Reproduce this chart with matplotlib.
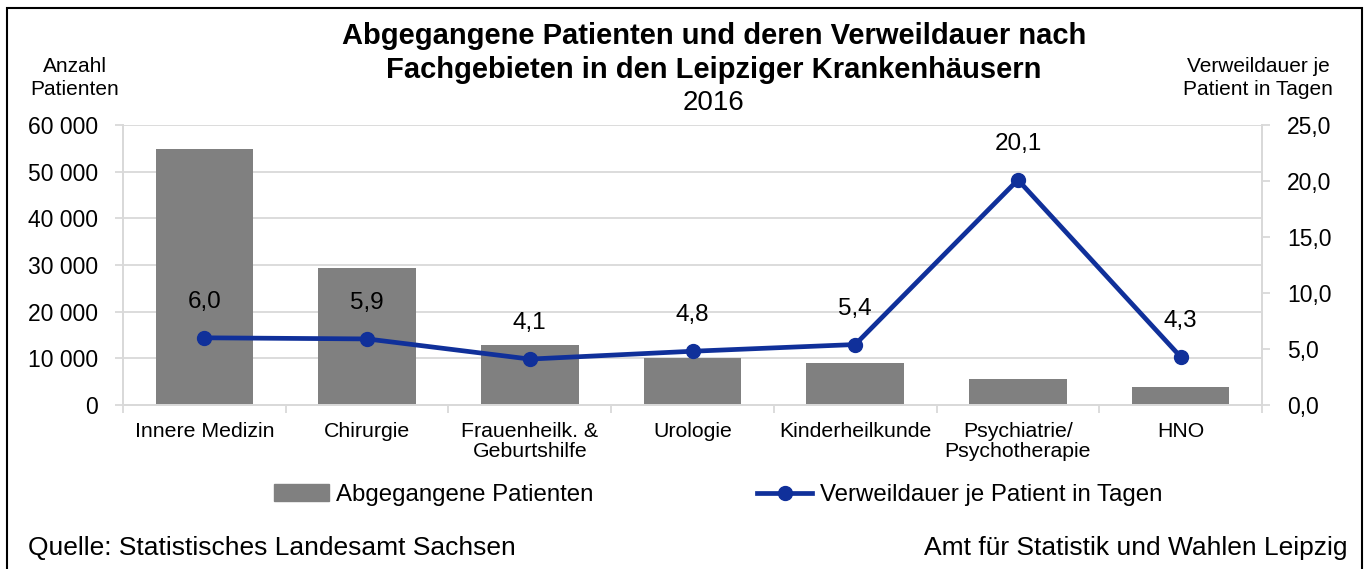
import matplotlib
matplotlib.use("Agg")
import matplotlib.pyplot as plt
from matplotlib.ticker import FuncFormatter, FixedLocator
from matplotlib.patches import Rectangle
from matplotlib.lines import Line2D

plt.rcParams['font.family'] = ['Liberation Sans', 'DejaVu Sans']

categories = ["Innere Medizin", "Chirurgie", "Frauenheilk. &\nGeburtshilfe", "Urologie",
              "Kinderheilkunde", "Psychiatrie/\nPsychotherapie", "HNO"]
patients = [54800, 29300, 12850, 10000, 8900, 5600, 3900]
duration = [6.0, 5.9, 4.1, 4.8, 5.4, 20.1, 4.3]
duration_labels = ["6,0", "5,9", "4,1", "4,8", "5,4", "20,1", "4,3"]

bar_color = "#808080"
line_color = "#10309a"
grid_color = "#d9d9d9"

fig = plt.figure(figsize=(13.65, 5.69), dpi=100)
ax = fig.add_axes([123/1365, 1-405/569, (1262-123)/1365, (405-125)/569])
ax2 = ax.twinx()

x = list(range(len(categories)))
ax.bar(x, patients, width=0.6, color=bar_color, zorder=2)
ax.set_xlim(-0.5, len(categories)-0.5)
ax.set_ylim(0, 60000)
ax.set_yticks(range(0, 60001, 10000))
ax.yaxis.set_major_formatter(FuncFormatter(lambda v, p: f"{int(v):,}".replace(",", " ")))
ax.grid(axis='y', color=grid_color, lw=1.3, zorder=0)
ax.set_axisbelow(True)

ax.set_xticks(x)
ax.set_xticklabels(categories, fontsize=15.3, linespacing=1.1)
ax.xaxis.set_minor_locator(FixedLocator([i - 0.5 for i in range(len(categories)+1)]))
ax.tick_params(axis='x', which='major', length=0, pad=12)
ax.tick_params(axis='x', which='minor', length=6, width=1.3, color=grid_color, direction='out')
ax.tick_params(axis='y', length=6, width=1.3, color=grid_color, labelsize=16.5, pad=12)

for s in ['top']:
    ax.spines[s].set_visible(False)
    ax2.spines[s].set_visible(False)
for a in (ax, ax2):
    for s in ['left', 'right', 'bottom']:
        a.spines[s].set_color(grid_color)
        a.spines[s].set_linewidth(1.3)

ax2.plot(x, duration, color=line_color, lw=3.4, marker='o', markersize=10, zorder=3)
ax2.set_ylim(0, 25)
ax2.set_yticks([0, 5, 10, 15, 20, 25])
ax2.yaxis.set_major_formatter(FuncFormatter(lambda v, p: f"{v:.1f}".replace(".", ",")))
ax2.tick_params(axis='y', length=6, width=1.3, color=grid_color, labelsize=16.5, pad=12)
for xi, yi, lab in zip(x, duration, duration_labels):
    ax2.annotate(lab, (xi, yi), xytext=(0, 18), textcoords='offset points',
                 ha='center', va='bottom', fontsize=17.5)

# Titles
fig.text(0.523, 1-36/569, "Abgegangene Patienten und deren Verweildauer nach", ha='center', va='center',
         fontsize=21, fontweight='bold')
fig.text(0.523, 1-70/569, "Fachgebieten in den Leipziger Krankenhäusern", ha='center', va='center',
         fontsize=21, fontweight='bold')
fig.text(0.523, 1-103/569, "2016", ha='center', va='center', fontsize=20)

fig.text(75/1365, 1-78/569, "Anzahl\nPatienten", ha='center', va='center', fontsize=15, linespacing=1.25)
fig.text(1258/1365, 1-78/569, "Verweildauer je\nPatient in Tagen", ha='center', va='center', fontsize=15,
         linespacing=1.25)

# Legend
handles = [Rectangle((0, 0), 1, 1, color=bar_color),
           Line2D([], [], color=line_color, lw=3.4, marker='o', markersize=10)]
fig.legend(handles, ["Abgegangene Patienten", "Verweildauer je Patient in Tagen"],
           loc='center', bbox_to_anchor=(718/1365, 1-495/569), ncol=2, frameon=False,
           fontsize=17.3, handlelength=2.3, handletextpad=0.3, columnspacing=6.8, handleheight=0.7)

fig.text(28/1365, 1-548/569, "Quelle: Statistisches Landesamt Sachsen", ha='left', va='center', fontsize=19)
fig.text(1348/1365, 1-548/569, "Amt für Statistik und Wahlen Leipzig", ha='right', va='center', fontsize=19)

# Frame
fig.patches.append(Rectangle((7/1365, -0.01), (1362-7)/1365, 1-8/569+0.01, transform=fig.transFigure,
                             fill=False, edgecolor='black', lw=1.5))

fig.savefig("out.png", dpi=100)
